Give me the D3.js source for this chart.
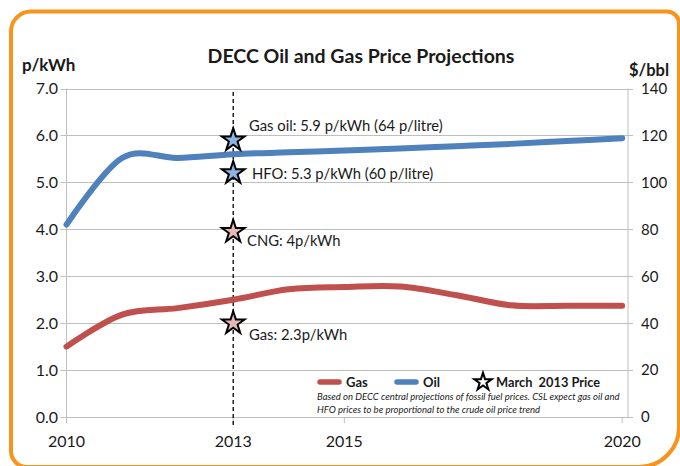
<!DOCTYPE html>
<html>
<head>
<meta charset="utf-8">
<script src="https://cdn.jsdelivr.net/npm/d3@7"></script>
<style>
  html, body { margin: 0; padding: 0; background: #fff; }
  svg { display: block; font-family: Lato, "Open Sans", sans-serif; }
</style>
</head>
<body>
<svg id="chart" width="680" height="466"></svg>
<script>
// ---- data ----
const years = [2010, 2011, 2012, 2013, 2014, 2015, 2016, 2017, 2018, 2019, 2020];
const gasPrice = [1.5, 2.18, 2.32, 2.5, 2.72, 2.77, 2.78, 2.6, 2.38, 2.37, 2.37];
const oilPrice = [4.1, 5.52, 5.52, 5.6, 5.64, 5.68, 5.72, 5.77, 5.82, 5.88, 5.94];
const leftTicks = [0, 1, 2, 3, 4, 5, 6, 7];
const rightTicks = [0, 20, 40, 60, 80, 100, 120, 140];
const xTicks = [2010, 2013, 2015, 2020];
const markerYear = 2013;
const markerLabels = ["Gas oil: 5.9 p/kWh (64 p/litre)", "HFO: 5.3 p/kWh (60 p/litre)", "CNG: 4p/kWh", "Gas: 2.3p/kWh"];
const markerValues = [5.9, 5.2, 3.95, 2.0];
const markerKinds = ["oil", "oil", "gas", "gas"];
const seriesNames = ["Gas", "Oil"];
const title = "DECC Oil and Gas Price Projections";
const noteLines = ["Based on DECC central projections of fossil fuel prices. CSL expect gas oil and",
                   "HFO prices to be proportional to the crude oil price trend"];

// ---- layout ----
const svg = d3.select("#chart");
const pL = 66.5, pR = 628, pT = 88.5, pB = 417;
const x = d3.scaleLinear().domain([2010, 2020]).range([pL, 622.2]);
const y = d3.scaleLinear().domain([0, 7]).range([pB, pT]);
const y2 = d3.scaleLinear().domain([0, 140]).range([pB, pT]);
const colors = { gas: "#c0504d", oil: "#4f81bd" };
const starFill = { gas: "#e6b9b8", oil: "#8db3e2" };

// orange frame (custom rounded corners)
const fx0 = 11, fy0 = 11.5, fx1 = 679, fy1 = 467;
const rTL = 20, rTR = 12, rBR = 40, rBL = 16;
const fp = d3.path();
fp.moveTo(fx0 + rTL, fy0);
fp.lineTo(fx1 - rTR, fy0);
fp.arcTo(fx1, fy0, fx1, fy0 + rTR, rTR);
fp.lineTo(fx1, fy1 - rBR);
fp.arcTo(fx1, fy1, fx1 - rBR, fy1, rBR);
fp.lineTo(fx0 + rBL, fy1);
fp.arcTo(fx0, fy1, fx0, fy1 - rBL, rBL);
fp.lineTo(fx0, fy0 + rTL);
fp.arcTo(fx0, fy0, fx0 + rTL, fy0, rTL);
fp.closePath();
svg.append("path").attr("d", fp.toString()).attr("fill", "none")
  .attr("stroke", "#f7941d").attr("stroke-width", 4);

// gridlines
svg.append("g").selectAll("line").data(leftTicks).join("line")
  .attr("x1", pL - 6).attr("x2", pR + 5)
  .attr("y1", d => Math.round(y(d)) + 0.5).attr("y2", d => Math.round(y(d)) + 0.5)
  .attr("stroke", "#bfbfbf").attr("stroke-width", 1);

// axis lines
svg.append("line").attr("x1", pL).attr("x2", pL).attr("y1", pT).attr("y2", pB + 6)
  .attr("stroke", "#bfbfbf");
svg.append("line").attr("x1", pR).attr("x2", pR).attr("y1", pT).attr("y2", pB)
  .attr("stroke", "#bfbfbf");
svg.append("g").selectAll("line").data(xTicks.slice(1)).join("line")
  .attr("x1", d => x(d)).attr("x2", d => x(d)).attr("y1", pB).attr("y2", pB + 6)
  .attr("stroke", "#bfbfbf");

// left tick labels
svg.append("g").selectAll("text").data(leftTicks).join("text")
  .attr("x", 58).attr("y", d => y(d)).attr("dy", "0.36em")
  .attr("text-anchor", "end").attr("font-size", 16).attr("fill", "#1a1a1a")
  .text(d => d.toFixed(1));
// right tick labels
svg.append("g").selectAll("text").data(rightTicks).join("text")
  .attr("x", 641).attr("y", d => y2(d)).attr("dy", "0.36em")
  .attr("text-anchor", "start").attr("font-size", 15).attr("fill", "#1a1a1a")
  .text(d => d);
// x tick labels
svg.append("g").selectAll("text").data(xTicks).join("text")
  .attr("x", d => x(d)).attr("y", 441).attr("dy", "0.36em")
  .attr("text-anchor", "middle").attr("font-size", 16).attr("fill", "#1a1a1a")
  .text(d => d);

// title & axis titles
svg.append("text").attr("x", 361).attr("y", 56).attr("dy", "0.36em")
  .attr("text-anchor", "middle").attr("font-size", 19.5).attr("font-weight", "bold")
  .attr("fill", "#1a1a1a").text(title);
svg.append("text").attr("x", 22).attr("y", 65).attr("dy", "0.36em")
  .attr("font-size", 17).attr("font-weight", "bold").attr("fill", "#1a1a1a").text("p/kWh");
svg.append("text").attr("x", 629).attr("y", 70).attr("dy", "0.36em")
  .attr("font-size", 16.5).attr("font-weight", "bold").attr("fill", "#1a1a1a").text("$/bbl");

// dashed marker line
svg.append("line").attr("x1", x(markerYear)).attr("x2", x(markerYear))
  .attr("y1", 92).attr("y2", pB + 8)
  .attr("stroke", "#000").attr("stroke-width", 1.3).attr("stroke-dasharray", "4,3");

// series lines
const line = d3.line().x((d, i) => x(years[i])).y(d => y(d)).curve(d3.curveCatmullRom.alpha(0));
svg.append("path").attr("d", line(gasPrice)).attr("fill", "none")
  .attr("stroke", colors.gas).attr("stroke-width", 6).attr("stroke-linecap", "round");
svg.append("path").attr("d", line(oilPrice)).attr("fill", "none")
  .attr("stroke", colors.oil).attr("stroke-width", 6).attr("stroke-linecap", "round");

// stars
const star = d3.symbol().type(d3.symbolStar).size(160);
svg.append("g").selectAll("path").data(markerValues).join("path")
  .attr("d", star)
  .attr("transform", d => `translate(${x(markerYear)},${y(d)})`)
  .attr("fill", (d, i) => starFill[markerKinds[i]])
  .attr("stroke", "#000").attr("stroke-width", 2).attr("stroke-linejoin", "miter");

// marker labels
const labelPos = [[249, 126], [252, 174], [247, 241], [249, 335]];
svg.append("g").selectAll("text").data(markerLabels).join("text")
  .attr("x", (d, i) => labelPos[i][0]).attr("y", (d, i) => labelPos[i][1]).attr("dy", "0.36em")
  .attr("font-size", 14.8).attr("fill", "#1a1a1a")
  .text(d => d);

// legend
const lg = svg.append("g");
const legendItems = [{ name: seriesNames[0], c: colors.gas, x0: 318 }, { name: seriesNames[1], c: colors.oil, x0: 395 }];
legendItems.forEach(it => {
  lg.append("line").attr("x1", it.x0 + 2).attr("x2", it.x0 + 21).attr("y1", 382).attr("y2", 382)
    .attr("stroke", it.c).attr("stroke-width", 5.5).attr("stroke-linecap", "round");
  lg.append("text").attr("x", it.x0 + 28).attr("y", 382).attr("dy", "0.36em")
    .attr("font-size", 13).attr("font-weight", "bold").attr("fill", "#1a1a1a").text(it.name);
});
lg.append("path").attr("d", d3.symbol().type(d3.symbolStar).size(95)())
  .attr("transform", "translate(483,382)").attr("fill", "#fff")
  .attr("stroke", "#000").attr("stroke-width", 2);
lg.append("text").attr("x", 496).attr("y", 382).attr("dy", "0.36em")
  .attr("font-size", 12.8).attr("font-weight", "bold").attr("fill", "#1a1a1a")
  .attr("xml:space", "preserve").text("March  2013 Price");
lg.selectAll("text.note").data(noteLines).join("text").attr("class", "note")
  .attr("x", 317).attr("y", (d, i) => 397 + i * 13).attr("dy", "0.36em")
  .attr("font-size", 9.5).attr("font-style", "italic").attr("fill", "#1a1a1a")
  .text(d => d);
</script>
</body>
</html>
